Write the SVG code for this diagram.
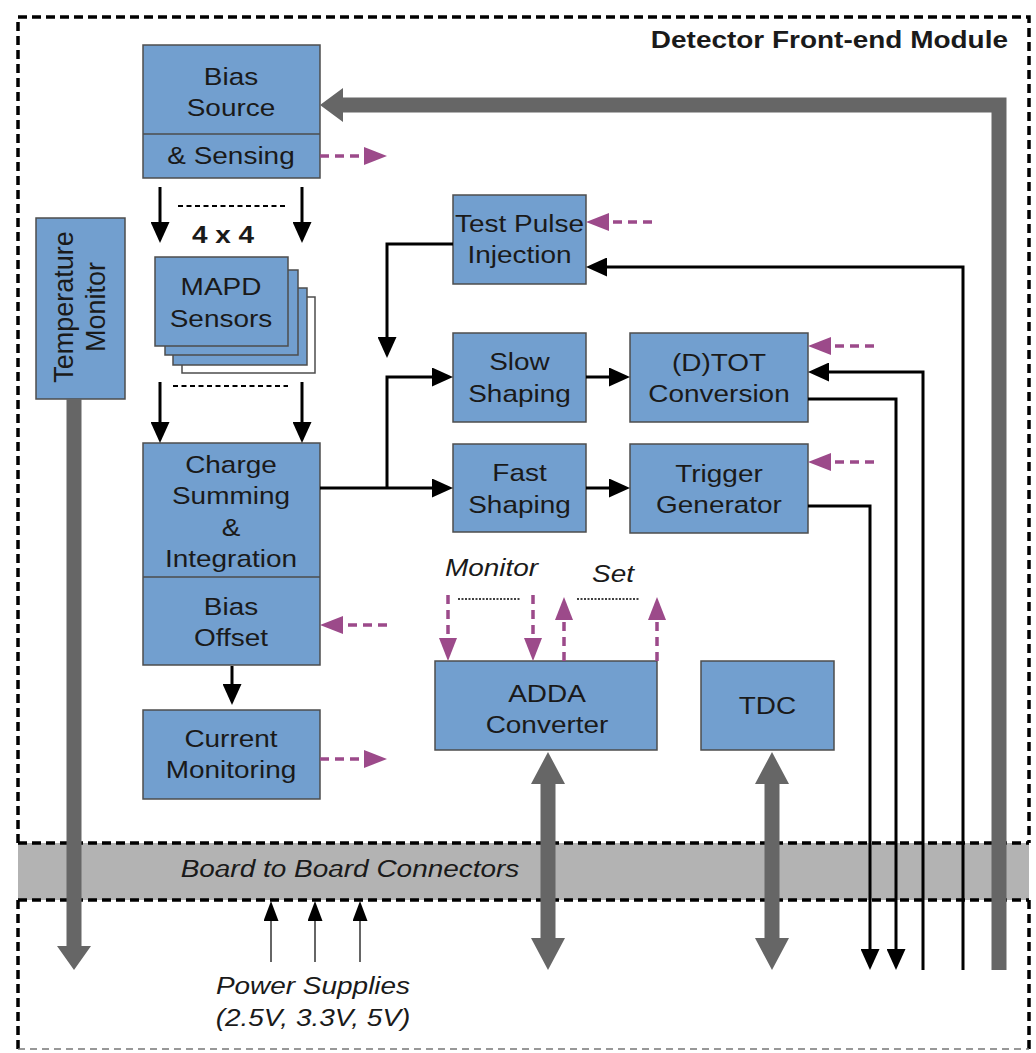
<svg xmlns="http://www.w3.org/2000/svg" width="1036" height="1053" viewBox="0 0 1036 1053">
<style>
.box{fill:#729fcf;stroke:#4d4d4d;stroke-width:1.5}
.wb{fill:#ffffff;stroke:#4d4d4d;stroke-width:1.5}
.div{stroke:#4d4d4d;stroke-width:1.5}
.t{font-family:"Liberation Sans",Arial,sans-serif;font-size:24px;fill:#1a1a1a;text-anchor:middle}
.b{font-weight:bold}
.i{font-style:italic}
.w{fill:none;stroke:#000;stroke-width:3;stroke-linejoin:miter}
.m{fill:none;stroke:#9c4a8a;stroke-width:3.5;stroke-dasharray:9 6}
.dot1{fill:none;stroke:#000;stroke-width:2;stroke-dasharray:5 3.5}
.dot2{fill:none;stroke:#000;stroke-width:1.5;stroke-dasharray:2 1.5}
.pw{fill:none;stroke:#333;stroke-width:1.5}
.gy{fill:#666666}
.bd{fill:none;stroke:#000;stroke-width:3.5;stroke-dasharray:9 5}
</style>
<defs>
<marker id="ab" markerUnits="userSpaceOnUse" markerWidth="21" markerHeight="19" viewBox="0 0 21 19" refX="1" refY="9.5" orient="auto"><path d="M0,0 L21,9.5 L0,19 z" fill="#000"/></marker>
<marker id="am" markerUnits="userSpaceOnUse" markerWidth="23" markerHeight="18" viewBox="0 0 23 18" refX="1" refY="9" orient="auto"><path d="M0,0 L23,9 L0,18 z" fill="#9c4a8a"/></marker>
<marker id="ap" markerUnits="userSpaceOnUse" markerWidth="20" markerHeight="15" viewBox="0 0 20 15" refX="1" refY="7.5" orient="auto"><path d="M0,0 L20,7.5 L0,15 z" fill="#000"/></marker>
</defs>

<g id="frame">
<rect x="18" y="843" width="1011" height="57" fill="#b3b3b3"/>
<path class="bd" d="M18,843 V17 H1029 V843"/>
<path class="bd" d="M18,843 H1029"/>
<path class="bd" d="M18,900 H1029"/>
<path class="bd" d="M18,900 V1049"/>
<path class="bd" d="M1029,900 V1049"/>
<path d="M18,1049 H1029" fill="none" stroke="#777" stroke-width="1.5" stroke-dasharray="7 5"/>
<text class="t b" transform="scale(1.165 1)" x="865.24" y="48" style="text-anchor:end">Detector Front-end Module</text>
<text class="t i" transform="scale(1.165 1)" x="300.43" y="877">Board to Board Connectors</text>
<text class="t i" transform="scale(1.165 1)" x="268.67" y="994">Power Supplies</text>
<text class="t i" transform="scale(1.165 1)" x="268.67" y="1026">(2.5V, 3.3V, 5V)</text>
<text class="t i" transform="scale(1.165 1)" x="421.89" y="576">Monitor</text>
<text class="t i" transform="scale(1.165 1)" x="526.18" y="582">Set</text>
<text class="t b" transform="scale(1.165 1)" x="191.42" y="243">4 x 4</text>
</g>

<g id="bias-source">
<rect class="box" x="143" y="45" width="177" height="133"/>
<line class="div" x1="143" y1="134" x2="320" y2="134"/>
<text class="t" transform="scale(1.165 1)" x="198.28" y="85">Bias</text>
<text class="t" transform="scale(1.165 1)" x="198.28" y="116">Source</text>
<text class="t" transform="scale(1.165 1)" x="198.28" y="164">&amp; Sensing</text>
</g>

<g id="temperature-monitor">
<rect class="box" x="36" y="218" width="89" height="181"/>
<g transform="translate(80.5,307) rotate(-90)">
<text class="t" x="0" y="-8" style="font-size:27px">Temperature</text>
<text class="t" x="0" y="24" style="font-size:27px">Monitor</text>
</g>
</g>

<g id="mapd-sensors">
<rect class="wb" x="182" y="297" width="133" height="76"/>
<rect class="box" x="173" y="288" width="134" height="77"/>
<rect class="box" x="165" y="270" width="133" height="85"/>
<rect class="box" x="155" y="257" width="133" height="89"/>
<text class="t" transform="scale(1.165 1)" x="189.70" y="295">MAPD</text>
<text class="t" transform="scale(1.165 1)" x="189.70" y="327">Sensors</text>
</g>

<g id="charge-summing">
<rect class="box" x="143" y="443" width="177" height="222"/>
<line class="div" x1="143" y1="577" x2="320" y2="577"/>
<text class="t" transform="scale(1.165 1)" x="198.28" y="473">Charge</text>
<text class="t" transform="scale(1.165 1)" x="198.28" y="504">Summing</text>
<text class="t" transform="scale(1.165 1)" x="198.28" y="536">&amp;</text>
<text class="t" transform="scale(1.165 1)" x="198.28" y="567">Integration</text>
<text class="t" transform="scale(1.165 1)" x="198.28" y="615">Bias</text>
<text class="t" transform="scale(1.165 1)" x="198.28" y="646">Offset</text>
</g>

<g id="current-monitoring">
<rect class="box" x="143" y="710" width="177" height="89"/>
<text class="t" transform="scale(1.165 1)" x="198.28" y="747">Current</text>
<text class="t" transform="scale(1.165 1)" x="198.28" y="778">Monitoring</text>
</g>

<g id="test-pulse-injection">
<rect class="box" x="453" y="195" width="133" height="89"/>
<text class="t" transform="scale(1.165 1)" x="445.92" y="232">Test Pulse</text>
<text class="t" transform="scale(1.165 1)" x="445.92" y="263">Injection</text>
</g>

<g id="slow-shaping">
<rect class="box" x="453" y="333" width="133" height="89"/>
<text class="t" transform="scale(1.165 1)" x="445.92" y="370">Slow</text>
<text class="t" transform="scale(1.165 1)" x="445.92" y="402">Shaping</text>
</g>

<g id="fast-shaping">
<rect class="box" x="453" y="444" width="133" height="88"/>
<text class="t" transform="scale(1.165 1)" x="445.92" y="481">Fast</text>
<text class="t" transform="scale(1.165 1)" x="445.92" y="513">Shaping</text>
</g>

<g id="dtot-conversion">
<rect class="box" x="630" y="333" width="178" height="89"/>
<text class="t" transform="scale(1.165 1)" x="617.17" y="371">(D)TOT</text>
<text class="t" transform="scale(1.165 1)" x="617.17" y="402">Conversion</text>
</g>

<g id="trigger-generator">
<rect class="box" x="630" y="444" width="178" height="89"/>
<text class="t" transform="scale(1.165 1)" x="617.17" y="482">Trigger</text>
<text class="t" transform="scale(1.165 1)" x="617.17" y="513">Generator</text>
</g>

<g id="adda-converter">
<rect class="box" x="435" y="661" width="222" height="89"/>
<text class="t" transform="scale(1.165 1)" x="469.53" y="702">ADDA</text>
<text class="t" transform="scale(1.165 1)" x="469.53" y="733">Converter</text>
</g>

<g id="tdc">
<rect class="box" x="701" y="661" width="133" height="89"/>
<text class="t" transform="scale(1.165 1)" x="658.80" y="714">TDC</text>
</g>

<g id="connectors">
<path class="gy" d="M1006.5,97.5 V970 H991.5 V112.5 H343 V122 L320,105 L343,88 V97.5 Z"/>
<path class="gy" d="M66.5,399 V946 H57 L74,970 L91,946 H81.5 V399 Z"/>
<path class="gy" d="M548,752 L565,784 H555.5 V938 H565 L548,970 L531,938 H540.5 V784 H531 Z"/>
<path class="gy" d="M772,752 L789,784 H779.5 V938 H789 L772,970 L755,938 H764.5 V784 H755 Z"/>

<path class="w" marker-end="url(#ab)" d="M160,187 V223"/>
<path class="w" marker-end="url(#ab)" d="M302,187 V223"/>
<path class="w" marker-end="url(#ab)" d="M160,382 V423"/>
<path class="w" marker-end="url(#ab)" d="M302,382 V423"/>
<path class="w" marker-end="url(#ab)" d="M232,666 V685"/>
<path class="w" marker-end="url(#ab)" d="M320,488 H433"/>
<path class="w" marker-end="url(#ab)" d="M387,488 V377 H433"/>
<path class="w" marker-end="url(#ab)" d="M453,244 H387 V338"/>
<path class="w" marker-end="url(#ab)" d="M586,377 H610"/>
<path class="w" marker-end="url(#ab)" d="M586,488 H610"/>
<path class="w" marker-end="url(#ab)" d="M923,970 V372 H828"/>
<path class="w" marker-end="url(#ab)" d="M963,970 V267 H606"/>
<path class="w" marker-end="url(#ab)" d="M808,399 H896 V950"/>
<path class="w" marker-end="url(#ab)" d="M808,506 H870 V950"/>

<path class="m" marker-end="url(#am)" d="M320,156 H365"/>
<path class="m" marker-end="url(#am)" d="M652,222 H608"/>
<path class="m" marker-end="url(#am)" d="M874,346 H830"/>
<path class="m" marker-end="url(#am)" d="M874,462 H830"/>
<path class="m" marker-end="url(#am)" d="M387,625 H342"/>
<path class="m" marker-end="url(#am)" d="M320,759 H365"/>
<path class="m" marker-end="url(#am)" d="M448,595 V639"/>
<path class="m" marker-end="url(#am)" d="M533,595 V639"/>
<path class="m" marker-end="url(#am)" d="M564,661 V619"/>
<path class="m" marker-end="url(#am)" d="M657,661 V619"/>

<path class="dot1" d="M178,206 H285"/>
<path class="dot1" d="M173,386 H288"/>
<path class="dot2" d="M458,599 H520"/>
<path class="dot2" d="M577,599 H640"/>

<path class="pw" marker-end="url(#ap)" d="M271,962 V920"/>
<path class="pw" marker-end="url(#ap)" d="M315,962 V920"/>
<path class="pw" marker-end="url(#ap)" d="M360,962 V920"/>
</g>
</svg>
